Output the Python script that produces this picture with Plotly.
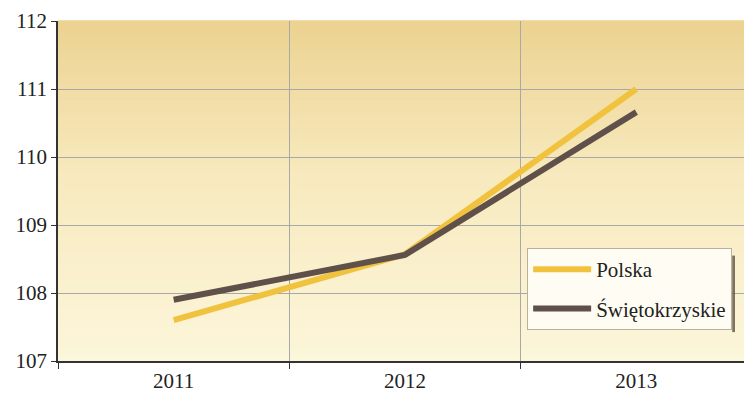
import plotly.graph_objects as go

years = ["2011", "2012", "2013"]
polska = [107.6, 108.57, 111.0]
swietokrzyskie = [107.9, 108.56, 110.66]
y_ticks = [107, 108, 109, 110, 111, 112]

SERIF = "Liberation Serif"

fig = go.Figure()
fig.add_trace(go.Scatter(x=years, y=polska, mode="lines", name="Polska",
                         line=dict(color="#F0C23E", width=6), legendgroup="a"))
fig.add_trace(go.Scatter(x=years, y=swietokrzyskie, mode="lines", name="Świętokrzyskie",
                         line=dict(color="#5F5049", width=6), legendgroup="b"))

# gradient background stripes
shapes = []
n = 60
top = (236, 211, 146)
mid = (248, 234, 190)
bot = (252, 246, 218)
for i in range(n):
    f = i / (n - 1)
    if f < 0.45:
        g = f / 0.45
        c = tuple(int(top[k] + (mid[k] - top[k]) * g) for k in range(3))
    else:
        g = (f - 0.45) / 0.55
        c = tuple(int(mid[k] + (bot[k] - mid[k]) * g) for k in range(3))
    y1 = 1 - i / n
    y0 = 1 - (i + 1) / n
    shapes.append(dict(type="rect", xref="paper", yref="paper", x0=0, x1=1, y0=y0, y1=y1 + 0.002,
                       fillcolor="rgb(%d,%d,%d)" % c, line=dict(width=0), layer="below"))
# legend shadow on the right edge
shapes.append(dict(type="rect", xref="paper", yref="paper", x0=0.9715, x1=0.9755, y0=0.085, y1=0.31,
                   fillcolor="rgba(105,90,75,0.85)", line=dict(width=0), layer="above"))

fig.update_layout(
    width=744, height=391,
    margin=dict(l=50, r=0, t=13, b=38),
    paper_bgcolor="white",
    plot_bgcolor="rgba(0,0,0,0)",
    font=dict(family=SERIF, size=21, color="#222"),
    shapes=shapes,
    showlegend=True,
    legend=dict(x=0.676, y=0.332, xanchor="left", yanchor="top",
                bgcolor="#FFFDF3", bordercolor="#B8B0A0", borderwidth=1,
                font=dict(family=SERIF, size=21, color="#222"),
                tracegroupgap=9, traceorder="grouped", itemwidth=58),
    xaxis=dict(type="category", range=[-0.5, 2.5], tickson="boundaries", ticks="outside",
               ticklen=6, tickcolor="#333", showgrid=True, gridcolor="#A8A8A8", gridwidth=1,
               showline=True, linecolor="#333", linewidth=1.5, zeroline=False,
               tickfont=dict(family=SERIF, size=21)),
    yaxis=dict(range=[107, 112], tickvals=y_ticks, ticks="outside", ticklen=5, tickcolor="#333",
               showgrid=True, gridcolor="#A8A8A8", gridwidth=1,
               showline=True, linecolor="#333", linewidth=1.5, zeroline=False,
               tickfont=dict(family=SERIF, size=21)),
)

fig.write_html("out.html")
